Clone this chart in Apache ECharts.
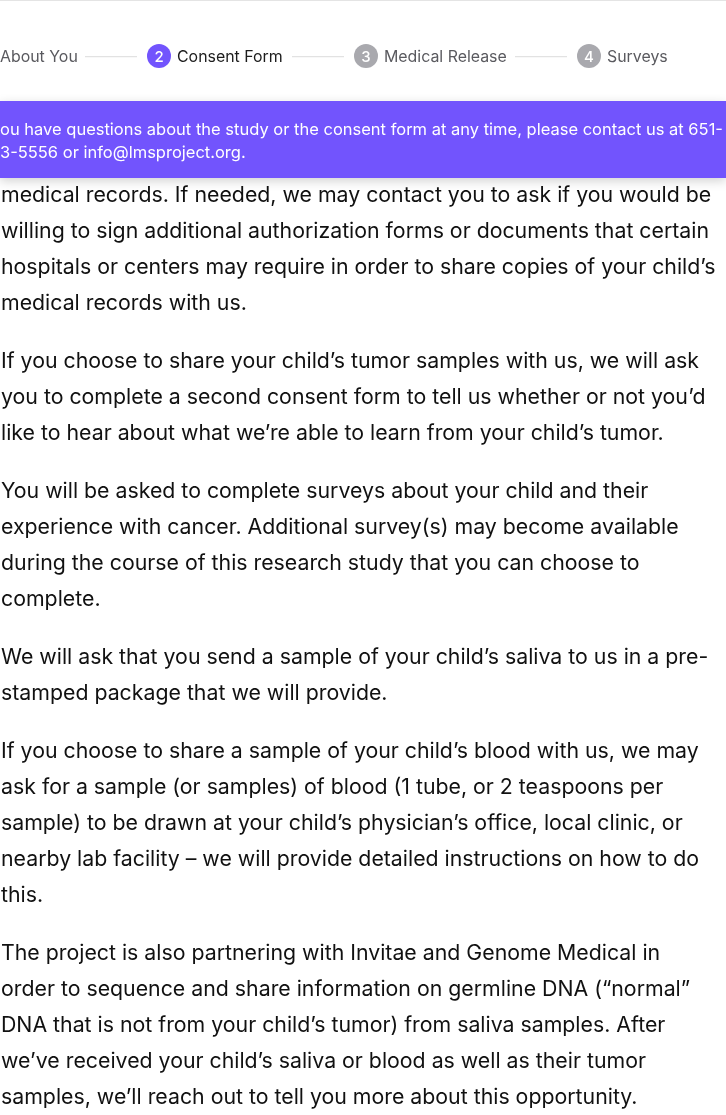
<!DOCTYPE html>
<html>
<head>
    <meta charset="UTF-8">
    <title>Consent Form</title>
    <script src="https://cdn.jsdelivr.net/npm/echarts@6/dist/echarts.min.js"></script>
    <style>
        html, body { margin: 0; padding: 0; background: #fff; }
        #page { width: 726px; height: 1115px; }
    </style>
</head>
<body>
<div id="page"></div>
<script>
    // steps of the form wizard
    var stepNames = ['About You', 'Consent Form', 'Medical Release', 'Surveys'];
    var stepNums = ['', '2', '3', '4'];
    var stepX = [0, 147, 354, 577];       // left edge of each step (circle or text)
    var activeStep = 1;

    // banner lines
    var bannerLines = [
        'ou have questions about the study or the consent form at any time, please contact us at 651-',
        '3-5556 or info@lmsproject.org.'
    ];

    // body paragraphs, line by line as shown
    var paragraphs = [
        ['medical records. If needed, we may contact you to ask if you would be',
         'willing to sign additional authorization forms or documents that certain',
         'hospitals or centers may require in order to share copies of your child\u2019s',
         'medical records with us.'],
        ['If you choose to share your child\u2019s tumor samples with us, we will ask',
         'you to complete a second consent form to tell us whether or not you\u2019d',
         'like to hear about what we\u2019re able to learn from your child\u2019s tumor.'],
        ['You will be asked to complete surveys about your child and their',
         'experience with cancer. Additional survey(s) may become available',
         'during the course of this research study that you can choose to',
         'complete.'],
        ['We will ask that you send a sample of your child\u2019s saliva to us in a pre-',
         'stamped package that we will provide.'],
        ['If you choose to share a sample of your child\u2019s blood with us, we may',
         'ask for a sample (or samples) of blood (1 tube, or 2 teaspoons per',
         'sample) to be drawn at your child\u2019s physician\u2019s office, local clinic, or',
         'nearby lab facility \u2013 we will provide detailed instructions on how to do',
         'this.'],
        ['The project is also partnering with Invitae and Genome Medical in',
         'order to sequence and share information on germline DNA (\u201cnormal\u201d',
         'DNA that is not from your child\u2019s tumor) from saliva samples. After',
         'we\u2019ve received your child\u2019s saliva or blood as well as their tumor',
         'samples, we\u2019ll reach out to tell you more about this opportunity.']
    ];

    var FONT = 'Inter, "Noto Sans", sans-serif';
    var purple = '#7254fd';
    var els = [];

    // top hairline
    els.push({type: 'rect', shape: {x: 0, y: 0, width: 726, height: 1}, style: {fill: '#e4e4e4'}});

    // wizard steps
    var stepY = 56;
    stepNames.forEach(function (name, i) {
        var x = stepX[i];
        var textX = x;
        if (stepNums[i]) {
            els.push({
                type: 'circle',
                shape: {cx: x + 12, cy: stepY, r: 12},
                style: {fill: i === activeStep ? purple : '#a9a9ae'}
            });
            els.push({
                type: 'text',
                style: {
                    x: x + 12, y: stepY + 1, text: stepNums[i], fill: '#fff',
                    font: '500 15px ' + FONT, align: 'center', verticalAlign: 'middle'
                }
            });
            textX = x + 30;
        }
        els.push({
            type: 'text',
            style: {
                x: textX, y: stepY + 1, text: name,
                fill: i === activeStep ? '#1c1c1c' : '#5a5a5f',
                font: '15.9px ' + FONT, verticalAlign: 'middle'
            }
        });
    });
    // connectors between steps
    [[85, 137], [292, 344], [515, 567]].forEach(function (s) {
        els.push({type: 'rect', shape: {x: s[0], y: stepY, width: s[1] - s[0], height: 1.2}, style: {fill: '#e2e2e2'}});
    });

    // banner
    els.push({
        type: 'rect',
        shape: {x: 0, y: 101, width: 726, height: 77},
        style: {fill: purple, shadowBlur: 10, shadowColor: 'rgba(0,0,0,0.18)', shadowOffsetY: 3},
        z: 5
    });
    bannerLines.forEach(function (t, i) {
        els.push({
            type: 'text', z: 6,
            style: {
                x: 0, y: 130 + i * 23, text: t, fill: '#fff',
                font: '16.5px ' + FONT, verticalAlign: 'middle'
            }
        });
    });

    // body text
    var y = 196;
    paragraphs.forEach(function (lines) {
        lines.forEach(function (t) {
            els.push({
                type: 'text',
                style: {x: 1, y: y, text: t, fill: '#111', font: '21.3px ' + FONT, verticalAlign: 'middle'}
            });
            y += 36;
        });
        y += 22;
    });

    var chart = echarts.init(document.getElementById('page'));
    chart.setOption({
        animation: false,
        backgroundColor: '#fff',
        graphic: {elements: els}
    });
</script>
</body>
</html>
